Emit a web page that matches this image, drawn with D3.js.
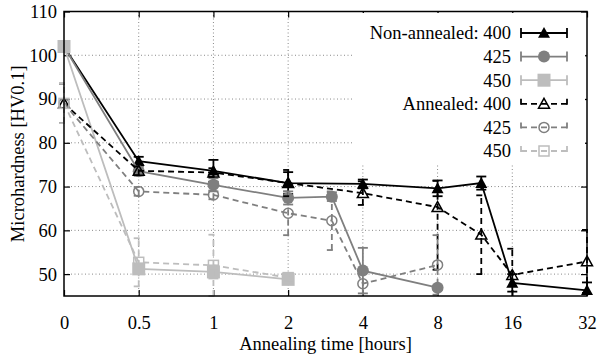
<!DOCTYPE html>
<html>
<head>
<meta charset="utf-8">
<script src="https://cdn.jsdelivr.net/npm/d3@7"></script>
<style>
  body { margin: 0; background: #fff; }
  svg { display: block; }
  text { font-family: "Liberation Serif", "DejaVu Serif", serif; font-size: 18.5px; fill: #000; }
</style>
</head>
<body>
<svg id="chart" width="598" height="358"></svg>
<script>
// annealing times (hours) per series
const tLong = [0, 0.5, 1, 2, 4, 8, 12, 16, 32];
const tMid = [0, 0.5, 1, 2, 3, 4, 8];
const tShort = [0, 0.5, 1, 2];

const xTickValues = [0, 0.5, 1, 2, 4, 8, 16, 32];
const xTickLabels = ['0', '0.5', '1', '2', '4', '8', '16', '32'];
const yTicks = [50, 60, 70, 80, 90, 100, 110];

// microhardness values and error bars (number = symmetric, [down, up] otherwise)
const nonAnn400 = [102, 75.8, 73.6, 70.8, 70.6, 69.6, 70.8, 48, 46.3];
const nonAnn400Err = [0, 1, 2.5, 2.5, 1, 1.8, 1.5, 2, 1.8];
const nonAnn425 = [102, 73.5, 70.4, 67.4, 67.7, 50.8, 46.9];
const nonAnn425Err = [0, 1, 1.5, 1.5, 1, 5.2, 0.5];
const nonAnn450 = [102, 51.2, 50.5, 48.8];
const nonAnn450Err = [0, 1, 1.5, 0.5];

const ann400 = [89, 73.6, 73.2, 70.8, 68.5, 65.3, 59, 49.8, 52.9];
const ann400Err = [4.5, 1, 1, 3, 2.7, [14.3, 6], 9, 6, 7.2];
const ann425 = [89, 68.9, 68.1, 63.9, 62.2, 47.8, 52.1];
const ann425Err = [4.5, 1, 1, 5, 6.7, 3, 6.8];
const ann450 = [89, 52.7, 52, 49.2];
const ann450Err = [4.5, 5.5, 7, 0.5];

const black = '#000000', gray = '#7f7f7f', light = '#bdbdbd';

const series = [
  { label: 'Non-annealed: 400', t: tLong, v: nonAnn400, e: nonAnn400Err, color: black, dash: null, shape: 'triangle', open: false },
  { label: '425', t: tMid, v: nonAnn425, e: nonAnn425Err, color: gray, dash: null, shape: 'circle', open: false },
  { label: '450', t: tShort, v: nonAnn450, e: nonAnn450Err, color: light, dash: null, shape: 'square', open: false },
  { label: 'Annealed: 400', t: tLong, v: ann400, e: ann400Err, color: black, dash: '6,4', shape: 'triangle', open: true },
  { label: '425', t: tMid, v: ann425, e: ann425Err, color: gray, dash: '6,4', shape: 'circle', open: true },
  { label: '450', t: tShort, v: ann450, e: ann450Err, color: light, dash: '6,4', shape: 'square', open: true }
];

const margin = { left: 64, right: 11, top: 11.5, bottom: 62 };
const width = 598, height = 358;
const svg = d3.select('#chart');

// 0 sits one step left of 0.5, the rest are log2 spaced
const pos = t => t === 0 ? 0 : Math.log2(t) + 2;
const x = d3.scaleLinear().domain([0, 7]).range([margin.left, width - margin.right]);
const y = d3.scaleLinear().domain([45, 110]).range([height - margin.bottom, margin.top]);
const xt = t => x(pos(t));

// grid
const grid = svg.append('g').attr('stroke', '#8a8a8a').attr('stroke-width', 1).attr('stroke-dasharray', '1,2.5');
grid.selectAll('.gx').data(xTickValues.slice(1, -1)).enter().append('line')
  .attr('x1', d => xt(d)).attr('x2', d => xt(d))
  .attr('y1', y.range()[0]).attr('y2', y.range()[1]);
grid.selectAll('.gy').data(yTicks.slice(0, -1)).enter().append('line')
  .attr('y1', d => y(d)).attr('y2', d => y(d))
  .attr('x1', x.range()[0]).attr('x2', x.range()[1]);

// axes with inward ticks
const xAxis = d3.axisBottom(x).tickValues(xTickValues.map(pos))
  .tickFormat((d, i) => xTickLabels[i]).tickSizeInner(-6).tickSizeOuter(0).tickPadding(20);
svg.append('g').attr('transform', `translate(0,${y.range()[0]})`).call(xAxis)
  .call(g => g.select('.domain').remove());
svg.append('g').attr('transform', `translate(0,${y.range()[1]})`)
  .call(d3.axisTop(x).tickValues(xTickValues.map(pos)).tickFormat('').tickSizeInner(-6).tickSizeOuter(0))
  .call(g => g.select('.domain').remove());
svg.append('g').attr('transform', `translate(${x.range()[0]},0)`)
  .call(d3.axisLeft(y).tickValues(yTicks).tickSizeInner(-6).tickSizeOuter(0).tickPadding(7))
  .call(g => g.select('.domain').remove());
svg.append('g').attr('transform', `translate(${x.range()[1]},0)`)
  .call(d3.axisRight(y).tickValues(yTicks).tickFormat('').tickSizeInner(-6).tickSizeOuter(0))
  .call(g => g.select('.domain').remove());
svg.selectAll('.tick line').attr('stroke', '#000').attr('stroke-width', 1.2);
svg.selectAll('.tick text').style('font-size', '18.5px').attr('font-family', null);

// legend box hides the grid behind it
const legX = 352, legY = 13;
svg.append('rect').attr('x', legX).attr('y', legY).attr('width', 233).attr('height', 152).attr('fill', '#fff');

function marker(g, shape, open, color, cx, cy) {
  let p;
  if (shape === 'triangle') {
    const r = open ? 5.5 : 6;
    p = g.append('path').attr('d', `M${cx},${cy - r}L${cx + r},${cy + r * 0.8}L${cx - r},${cy + r * 0.8}Z`);
  } else if (shape === 'circle') {
    p = g.append('circle').attr('cx', cx).attr('cy', cy).attr('r', open ? 5 : 6);
  } else {
    const s = open ? 10 : 13;
    p = g.append('rect').attr('x', cx - s / 2).attr('y', cy - s / 2).attr('width', s).attr('height', s);
  }
  if (open) p.attr('fill', 'none').attr('stroke', color).attr('stroke-width', 1.5).attr('stroke-dasharray', null);
  else p.attr('fill', color).attr('stroke', 'none');
}

const line = d3.line().x(d => xt(d.t)).y(d => y(d.v));

series.forEach(s => {
  const pts = s.t.map((t, i) => ({ t, v: s.v[i], e: s.e[i] }));
  const g = svg.append('g').attr('stroke', s.color).attr('stroke-width', 1.8).attr('fill', 'none');
  if (s.dash) g.attr('stroke-dasharray', s.dash);
  g.append('path').attr('d', line(pts));
  pts.forEach(p => {
    const dn = Array.isArray(p.e) ? p.e[0] : p.e;
    const up = Array.isArray(p.e) ? p.e[1] : p.e;
    if (!dn && !up) return;
    const cx = xt(p.t), y0 = y(Math.max(p.v - dn, 45)), y1 = y(p.v + up);
    g.append('line').attr('x1', cx).attr('x2', cx).attr('y1', y0).attr('y2', y1);
    if (p.v - dn >= 45) g.append('line').attr('x1', cx - 5).attr('x2', cx + 5).attr('y1', y0).attr('y2', y0);
    g.append('line').attr('x1', cx - 5).attr('x2', cx + 5).attr('y1', y1).attr('y2', y1);
  });
  pts.forEach(p => marker(svg, s.shape, s.open, s.color, xt(p.t), y(p.v)));
});

// legend entries
series.forEach((s, i) => {
  const cy = 33 + i * 23.6;
  svg.append('text').attr('x', 511).attr('y', cy).attr('dy', '0.35em')
    .attr('text-anchor', 'end').text(s.label);
  const g = svg.append('g').attr('stroke', s.color).attr('stroke-width', 1.8);
  if (s.dash) g.attr('stroke-dasharray', s.dash);
  g.append('line').attr('x1', 521).attr('x2', 567).attr('y1', cy).attr('y2', cy);
  g.append('line').attr('x1', 521).attr('x2', 521).attr('y1', cy - 5).attr('y2', cy + 5);
  g.append('line').attr('x1', 567).attr('x2', 567).attr('y1', cy - 5).attr('y2', cy + 5);
  marker(svg, s.shape, s.open, s.color, 544, cy);
});

// frame
svg.append('rect').attr('x', x.range()[0]).attr('y', y.range()[1])
  .attr('width', x.range()[1] - x.range()[0]).attr('height', y.range()[0] - y.range()[1])
  .attr('fill', 'none').attr('stroke', '#000').attr('stroke-width', 1.5);

// axis titles
svg.append('text').attr('x', (x.range()[0] + x.range()[1]) / 2).attr('y', 350)
  .attr('text-anchor', 'middle').text('Annealing time [hours]');
svg.append('text').attr('transform', `translate(24,${(y.range()[0] + y.range()[1]) / 2}) rotate(-90)`)
  .attr('text-anchor', 'middle').text('Microhardness [HV0.1]');
</script>
</body>
</html>
